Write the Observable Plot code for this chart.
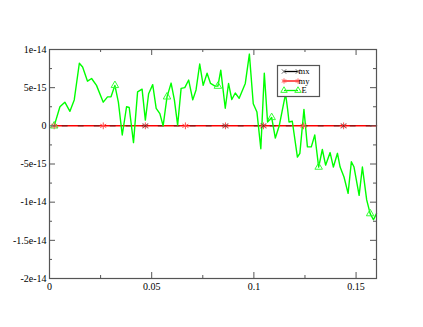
<!DOCTYPE html>
<html>
<head>
<meta charset="utf-8">
<script src="https://cdn.jsdelivr.net/npm/d3@7"></script>
<script src="https://cdn.jsdelivr.net/npm/@observablehq/plot@0.6"></script>
<style>
  html, body { margin: 0; padding: 0; background: #fff; }
  #chart { position: relative; width: 423px; height: 327px; }
</style>
</head>
<body>
<div id="chart"></div>
<script>
// ---- data ----
const eX = [0.0023,0.0051,0.0075,0.0100,0.0121,0.0146,0.0162,0.0186,0.0206,0.0230,
  0.0263,0.0284,0.0301,0.0320,0.0337,0.0356,0.0377,0.0390,0.0411,0.0431,
  0.0453,0.0469,0.0485,0.0505,0.0522,0.0540,0.0556,0.0575,0.0595,0.0611,
  0.0627,0.0644,0.0662,0.0681,0.0701,0.0717,0.0735,0.0752,0.0771,0.0788,
  0.0810,0.0824,0.0838,0.0860,0.0876,0.0892,0.0909,0.0928,0.0958,0.0978,
  0.0997,0.1015,0.1034,0.1051,0.1067,0.1087,0.1105,0.1124,0.1155,0.1165,
  0.1172,0.1188,0.1213,0.1225,0.1245,0.1262,0.1281,0.1298,0.1317,0.1335,
  0.1351,0.1373,0.1389,0.1409,0.1422,0.1441,0.1461,0.1477,0.1490,0.1515,
  0.1531,0.1552,0.1569,0.1585,0.1600];
const eY = [0,2.5,3.1,1.9,3.4,8.2,7.7,5.85,6.2,5.3,
  3.1,3.8,3.8,5.3,3.1,-1.2,2.5,2.4,-2.2,4.45,
  4.8,0.75,4.2,5.4,2.3,1.6,0,3.8,5.6,3.4,
  0.1,4.9,5.0,6.0,3.4,4.7,8.1,5.3,6.9,5.55,
  5.2,5.2,7.3,2.3,5.55,3.45,4.3,3.6,5.55,9.4,
  2.9,1.8,-3.0,6.9,0.5,1.1,-1.6,0,4.2,2.2,
  0.5,0.6,-4.1,-3.6,2.15,-2.75,-2.75,-1.2,-5.4,-3.1,
  -5.15,-3.5,-5.4,-3.6,-5.4,-6.7,-8.85,-4.7,-5.4,-9.1,
  -5.4,-9.7,-11.5,-12.3,-11.5].map(v => v * 1e-15);
const eMarkerIdx = [0, 13, 27, 41, 55, 68, 82];

const mX = [0.0023,0.0263,0.0469,0.0665,0.0861,0.1047,0.1243,0.1439,0.1600];
const mxY = [0,0,0,0,0,0,0,0,0];
const myY = [0,0,0,0,0,0,0,0,0];
const mxMarkerIdx = [2, 4, 5, 7];
const myMarkerIdx = [0, 1, 2, 3, 4, 5, 6, 7];

const xTicks = [0, 0.05, 0.1, 0.15];
const xTickLabels = ["0", "0.05", "0.1", "0.15"];
const xMinor = [0.025, 0.075, 0.125];
const yTicks = [1e-14, 5e-15, 0, -5e-15, -1e-14, -1.5e-14, -2e-14];
const yTickLabels = ["1e-14", "5e-15", "0", "-5e-15", "-1e-14", "-1.5e-14", "-2e-14"];
const yMinor = [7.5e-15, 2.5e-15, -2.5e-15, -7.5e-15, -1.25e-14, -1.75e-14];
const seriesNames = ["mx", "my", "E"];

// ---- build ----
const W = 423, H = 327, mL = 49, mR = 47, mT = 49, mB = 49;
const pW = W - mL - mR, pH = H - mT - mB;
const axisColor = "#555";
const font = "'Liberation Serif', 'DejaVu Serif', serif";

const eData = eX.map((x, i) => ({x, y: eY[i]}));
const mxData = mX.map((x, i) => ({x, y: mxY[i]}));
const myData = mX.map((x, i) => ({x, y: myY[i]}));

const plot = Plot.plot({
  width: W, height: H,
  marginLeft: mL, marginRight: mR, marginTop: mT, marginBottom: mB,
  style: {fontFamily: font, fontSize: "10px", color: "#000", background: "#fff"},
  x: {domain: [0, 0.16]},
  y: {domain: [-2e-14, 1e-14]},
  marks: [
    Plot.line(myData, {x: "x", y: "y", stroke: "#ff0000", strokeWidth: 1.5}),
    Plot.line(mxData, {x: "x", y: "y", stroke: "#222", strokeWidth: 1.3, strokeDasharray: "5,11", strokeDashoffset: -8, strokeOpacity: 0.6}),
    Plot.line(eData, {x: "x", y: "y", stroke: "#00ff00", strokeWidth: 1.4}),
    Plot.dot(eMarkerIdx.map(i => eData[i]), {x: "x", y: "y", symbol: "triangle", r: 2.8, stroke: "#33ff33", fill: "none", strokeWidth: 1}),
    Plot.dot(myMarkerIdx.map(i => myData[i]), {x: "x", y: "y", symbol: "asterisk", r: 3.2, stroke: "#ff5050", strokeWidth: 1}),
    Plot.dot(mxMarkerIdx.map(i => mxData[i]), {x: "x", y: "y", symbol: "times", r: 2.5, stroke: "#000", strokeWidth: 1, strokeOpacity: 0.5}),
    // inward ticks
    Plot.tickX(xTicks, {x: d => d, insetTop: pH - 6, stroke: axisColor}),
    Plot.tickX(xTicks, {x: d => d, insetBottom: pH - 6, stroke: axisColor}),
    Plot.tickX(xMinor, {x: d => d, insetTop: pH - 3, stroke: axisColor}),
    Plot.tickX(xMinor, {x: d => d, insetBottom: pH - 3, stroke: axisColor}),
    Plot.tickY(yTicks, {y: d => d, insetRight: pW - 6, stroke: axisColor}),
    Plot.tickY(yTicks, {y: d => d, insetLeft: pW - 6, stroke: axisColor}),
    Plot.tickY(yMinor, {y: d => d, insetRight: pW - 3, stroke: axisColor}),
    Plot.tickY(yMinor, {y: d => d, insetLeft: pW - 3, stroke: axisColor}),
    Plot.axisX({ticks: xTicks, tickFormat: d => xTickLabels[xTicks.indexOf(d)], tickSize: 0, tickPadding: 4, label: null}),
    Plot.axisY({ticks: yTicks, tickFormat: d => yTickLabels[yTicks.indexOf(d)], tickSize: 0, tickPadding: 3, label: null}),
    Plot.frame({stroke: axisColor, strokeWidth: 1.2})
  ]
});
document.getElementById("chart").appendChild(plot);

// ---- legend ----
const svg = d3.select(plot);
const lg = svg.append("g");
lg.append("rect").attr("x", 277.5).attr("y", 65.5).attr("width", 42).attr("height", 31)
  .attr("fill", "#fff").attr("stroke", axisColor).attr("stroke-width", 1.2);
const rows = [
  {name: seriesNames[0], y: 71.5, color: "#000", sym: d3.symbolTimes, size: 14, mk: "#666"},
  {name: seriesNames[1], y: 81, color: "#ff0000", sym: d3.symbolAsterisk, size: 18, mk: "#ff5050"},
  {name: seriesNames[2], y: 90.5, color: "#00ff00", sym: d3.symbolTriangle, size: 18, mk: "#33ff33"}
];
rows.forEach(r => {
  lg.append("line").attr("x1", 284).attr("x2", 298).attr("y1", r.y).attr("y2", r.y)
    .attr("stroke", r.color).attr("stroke-width", 1.3);
  [284, 298].forEach(cx => {
    lg.append("path").attr("d", d3.symbol(r.sym, r.size)())
      .attr("transform", `translate(${cx},${r.y})`)
      .attr("fill", "none").attr("stroke", r.mk).attr("stroke-width", 1);
  });
  lg.append("text").attr("x", 304).attr("y", r.y).attr("dy", "0.32em")
    .attr("font-family", font).attr("font-size", 8.5).attr("fill", "#000").text(r.name);
});
</script>
</body>
</html>
